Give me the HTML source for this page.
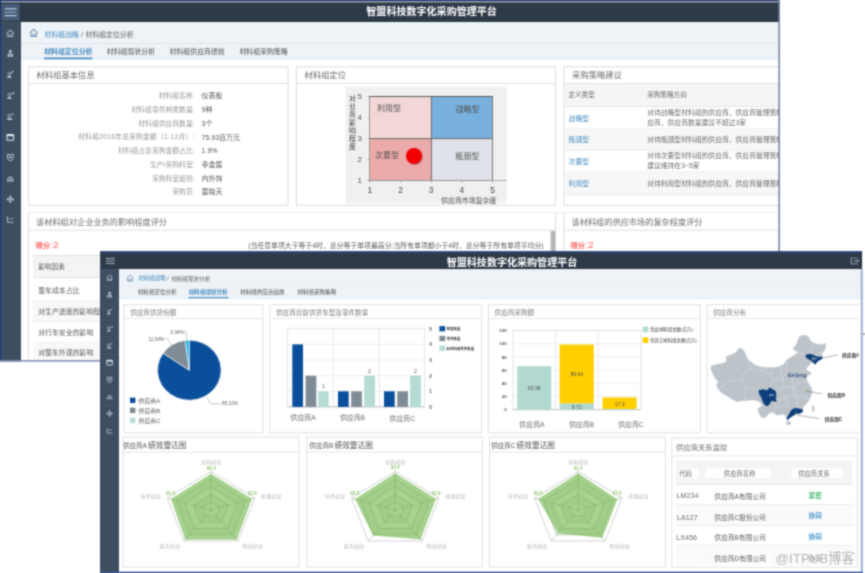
<!DOCTYPE html>
<html lang="zh-CN"><head><meta charset="utf-8"><title>智盟科技数字化采购管理平台</title>
<style>
html,body{margin:0;padding:0;background:#fff}
body{width:865px;height:573px;overflow:hidden;position:relative;font-family:"Liberation Sans","Noto Sans CJK SC",sans-serif}
#r{position:absolute;left:0;top:0;width:865px;height:573px;overflow:hidden;background:#fff;filter:url(#bl)}
.a{position:absolute}
.w{overflow:hidden}
.x{position:absolute;left:0;top:0;overflow:visible}
text{white-space:pre}
</style></head>
<body><svg width="0" height="0" style="position:absolute" aria-hidden="true"><filter id="bl" x="0" y="0" width="100%" height="100%" color-interpolation-filters="sRGB"><feConvolveMatrix order="5" kernelMatrix="0.0001 0.0020 0.0055 0.0020 0.0001 0.0020 0.0422 0.1171 0.0422 0.0020 0.0055 0.1171 0.3248 0.1171 0.0055 0.0020 0.0422 0.1171 0.0422 0.0020 0.0001 0.0020 0.0055 0.0020 0.0001" divisor="1.0004" edgeMode="duplicate" preserveAlpha="true"/></filter></svg><div id="r">
<div class="a w" id="w1" style="left:-12px;top:-12px;width:792px;height:373.7px;background:#fff">
<div class="a" style="left:12px;top:12px;width:865px;height:573px">
<svg class="x" width="1" height="1"><rect x="-12" y="-12" width="792" height="34.4" fill="#2e3a47"/></svg>
<svg class="x" width="1" height="1"><rect x="-12" y="-12" width="792" height="13" fill="#203a74"/></svg>
<svg class="x" width="1" height="1"><rect x="1" y="1" width="778" height="1.5" fill="#a0a2ae"/></svg>
<svg class="x" width="1" height="1"><rect x="-12" y="21.5" width="33" height="340" fill="#3e4e61"/></svg>
<svg class="a" style="left:0px;top:0px;" width="30" height="30" viewBox="0 0 30 30"><rect x="1.3" y="3.8" width="18.4" height="16.8" fill="#475c74"/><rect x="4.8" y="8.2" width="11.7" height="1.2" fill="#b4d2ea"/><rect x="4.8" y="11.6" width="11.7" height="1.2" fill="#93abc2"/><rect x="4.8" y="15" width="11.7" height="1.2" fill="#b4d2ea"/></svg>
<svg class="a" style="left:6.1px;top:28.9px;" width="8.6" height="8.6" viewBox="0 0 12 12"><path d="M1 6.2 L6 1.6 L11 6.2" fill="none" stroke="#acbbcc" stroke-width="1.5"/><path d="M2.6 6 V10.6 H9.4 V6" fill="none" stroke="#acbbcc" stroke-width="1.5"/><rect x="5" y="7.4" width="2" height="2.2" fill="#acbbcc"/></svg>
<svg class="a" style="left:6.1px;top:49.4px;" width="8.6" height="8.6" viewBox="0 0 12 12"><circle cx="6" cy="3.4" r="2.2" fill="#acbbcc"/><path d="M2.2 11 V8 Q2.2 5.8 6 5.8 Q9.8 5.8 9.8 8 V11 Z" fill="#acbbcc"/><rect x="5.4" y="7.6" width="1.2" height="3.4" fill="#3f5063"/></svg>
<svg class="a" style="left:6.1px;top:70.4px;" width="8.6" height="8.6" viewBox="0 0 12 12"><circle cx="4.6" cy="5.4" r="2" fill="none" stroke="#acbbcc" stroke-width="1.3"/><path d="M1.4 11 Q1.6 8 4.6 8 Q7.6 8 8 11 Z" fill="#acbbcc"/><path d="M7 4.2 L11 1.2" stroke="#acbbcc" stroke-width="1.4"/></svg>
<svg class="a" style="left:6.1px;top:91.4px;" width="8.6" height="8.6" viewBox="0 0 12 12"><circle cx="4.6" cy="5.2" r="1.9" fill="none" stroke="#acbbcc" stroke-width="1.3"/><path d="M1.4 11 Q1.6 8 4.6 8 Q7.6 8 8 11 Z" fill="#acbbcc"/><path d="M7.4 3.6 h3.2 v-2.2" fill="none" stroke="#acbbcc" stroke-width="1.4"/></svg>
<svg class="a" style="left:6.1px;top:111.9px;" width="8.6" height="8.6" viewBox="0 0 12 12"><circle cx="4.4" cy="5.2" r="1.9" fill="none" stroke="#acbbcc" stroke-width="1.3"/><path d="M1.2 11 Q1.4 8 4.6 8 Q8.8 8 9.4 11 Z" fill="#acbbcc"/><path d="M7.6 2 l3 2.4 M10.6 2 l-3 2.4" stroke="#acbbcc" stroke-width="1.2"/></svg>
<svg class="a" style="left:6.1px;top:132.9px;" width="8.6" height="8.6" viewBox="0 0 12 12"><rect x="1.4" y="2" width="9.2" height="8.2" rx="0.8" fill="none" stroke="#dde6ee" stroke-width="1.5"/><rect x="1.4" y="2" width="9.2" height="2.4" fill="#dde6ee"/></svg>
<svg class="a" style="left:6.1px;top:152.9px;" width="8.6" height="8.6" viewBox="0 0 12 12"><path d="M2 2 H10 V6.4 Q10 9.6 6 11 Q2 9.6 2 6.4 Z" fill="none" stroke="#acbbcc" stroke-width="1.4"/><rect x="4.4" y="4.2" width="3.2" height="3" fill="#acbbcc"/></svg>
<svg class="a" style="left:6.1px;top:173.9px;" width="8.6" height="8.6" viewBox="0 0 12 12"><path d="M1.4 9.6 H10.6 M2.6 9.4 V7 Q2.6 4.2 6 4.2 Q9.4 4.2 9.4 7 V9.4" fill="none" stroke="#acbbcc" stroke-width="1.4"/><rect x="4.8" y="6.2" width="2.4" height="2" fill="#acbbcc"/></svg>
<svg class="a" style="left:6.1px;top:194.9px;" width="8.6" height="8.6" viewBox="0 0 12 12"><path d="M6 0.8 L8.4 3.4 H3.6 Z M6 11.2 L8.4 8.6 H3.6 Z M0.8 6 L3.4 3.6 V8.4 Z M11.2 6 L8.6 3.6 V8.4 Z" fill="#dde6ee"/><rect x="4.6" y="4.6" width="2.8" height="2.8" fill="#dde6ee"/></svg>
<svg class="a" style="left:6.1px;top:214.9px;" width="8.6" height="8.6" viewBox="0 0 12 12"><path d="M2 1.6 V10.2 H10.6" fill="none" stroke="#acbbcc" stroke-width="1.4"/><path d="M4 6.4 L6 4.4 L7.6 6.4 L10 3.6" fill="none" stroke="#acbbcc" stroke-width="1.2"/></svg>
<svg class="x" width="1" height="1"><rect x="1" y="43.2" width="20" height="0.6" fill="#46566a"/></svg>
<svg class="x" width="1" height="1"><rect x="1" y="63.7" width="20" height="0.6" fill="#46566a"/></svg>
<svg class="x" width="1" height="1"><rect x="1" y="84.7" width="20" height="0.6" fill="#46566a"/></svg>
<svg class="x" width="1" height="1"><rect x="1" y="105.7" width="20" height="0.6" fill="#46566a"/></svg>
<svg class="x" width="1" height="1"><rect x="1" y="126.2" width="20" height="0.6" fill="#46566a"/></svg>
<svg class="x" width="1" height="1"><rect x="1" y="147.2" width="20" height="0.6" fill="#46566a"/></svg>
<svg class="x" width="1" height="1"><rect x="1" y="167.2" width="20" height="0.6" fill="#46566a"/></svg>
<svg class="x" width="1" height="1"><rect x="1" y="188.2" width="20" height="0.6" fill="#46566a"/></svg>
<svg class="x" width="1" height="1"><rect x="1" y="209.2" width="20" height="0.6" fill="#46566a"/></svg>
<svg class="x" width="1" height="1"><text x="431.6" y="15" font-size="10.05" fill="#fff" text-anchor="middle" font-weight="bold">智盟科技数字化采购管理平台</text></svg>
<svg class="x" width="1" height="1"><rect x="21" y="22" width="758" height="21.5" fill="#eef3f8"/></svg>
<svg class="x" width="1" height="1"><rect x="21" y="43.2" width="758" height="0.8" fill="#d9e0e8"/></svg>
<svg class="x" width="1" height="1"><rect x="21" y="44" width="758" height="15" fill="#eff3f8"/></svg>
<svg class="x" width="1" height="1"><rect x="21" y="58.6" width="758" height="0.8" fill="#d3e0ee"/></svg>
<svg class="a" style="left:29.05px;top:28.45px;" width="9.5" height="9.5" viewBox="0 0 12 12"><path d="M1 6.4 L6 1.4 L11 6.4" fill="none" stroke="#6f8fb0" stroke-width="1.3"/><path d="M2.6 6 V10.6 H9.4 V6" fill="none" stroke="#6f8fb0" stroke-width="1.3"/><path d="M4.8 10.4 V7.6 H7.2 V10.4" fill="none" stroke="#6f8fb0" stroke-width="1"/></svg>
<svg class="x" width="1" height="1"><text x="44.6" y="37" font-size="6.85" fill="#498ec2">材料组战略</text></svg>
<svg class="x" width="1" height="1"><text x="81" y="37" font-size="6.85" fill="#5e5e5e">/</text></svg>
<svg class="x" width="1" height="1"><text x="85.6" y="37" font-size="6.85" fill="#5e5e5e">材料组定位分析</text></svg>
<svg class="x" width="1" height="1"><text x="44.2" y="54" font-size="6.9" fill="#498ec2" font-weight="bold">材料组定位分析</text></svg>
<svg class="x" width="1" height="1"><text x="106.8" y="54" font-size="6.9" fill="#505050">材料组现状分析</text></svg>
<svg class="x" width="1" height="1"><text x="169.6" y="54" font-size="6.9" fill="#505050">材料组供应商绩效</text></svg>
<svg class="x" width="1" height="1"><text x="239.4" y="54" font-size="6.9" fill="#505050">材料组采购策略</text></svg>
<svg class="x" width="1" height="1"><rect x="44" y="57.6" width="48.4" height="1.6" fill="#3a86c0"/></svg>
<svg class="x" width="1" height="1"><rect x="28.5" y="66.8" width="259.6" height="138.5" fill="#fff" stroke="#dcdcdc" stroke-width="1"/><rect x="28" y="83" width="260.6" height="1" fill="#e0e0e0"/></svg><svg class="x" width="1" height="1"><text x="36.6" y="78" font-size="8.3" fill="#6d6d6d">材料组基本信息</text></svg>
<svg class="x" width="1" height="1"><rect x="296.5" y="66.8" width="259" height="138.5" fill="#fff" stroke="#dcdcdc" stroke-width="1"/><rect x="296" y="83" width="260" height="1" fill="#e0e0e0"/></svg><svg class="x" width="1" height="1"><text x="304.6" y="78" font-size="8.3" fill="#6d6d6d">材料组定位</text></svg>
<svg class="x" width="1" height="1"><rect x="564" y="66.8" width="229" height="138.5" fill="#fff" stroke="#dcdcdc" stroke-width="1"/><rect x="563.5" y="83" width="230" height="1" fill="#e0e0e0"/></svg><svg class="x" width="1" height="1"><text x="572.1" y="78" font-size="8.3" fill="#6d6d6d">采购策略建议</text></svg>
<svg class="x" width="1" height="1"><text x="194.6" y="98" font-size="6.8" fill="#9a9a9a" text-anchor="end">材料组名称:</text></svg>
<svg class="x" width="1" height="1"><text x="201.6" y="98" font-size="7" fill="#565656">仪表板</text></svg>
<svg class="x" width="1" height="1"><text x="194.6" y="112" font-size="6.8" fill="#9a9a9a" text-anchor="end">材料组零件种类数量:</text></svg>
<svg class="x" width="1" height="1"><text x="201.6" y="112" font-size="7" fill="#565656">9种</text></svg>
<svg class="x" width="1" height="1"><text x="194.6" y="126" font-size="6.8" fill="#9a9a9a" text-anchor="end">材料组供应商数量:</text></svg>
<svg class="x" width="1" height="1"><text x="201.6" y="126" font-size="7" fill="#565656">3个</text></svg>
<svg class="x" width="1" height="1"><text x="194.6" y="139" font-size="6.8" fill="#9a9a9a" text-anchor="end" style="letter-spacing:0.2px">材料组2018年总采购金额（1-12月）:</text></svg>
<svg class="x" width="1" height="1"><text x="201.6" y="140" font-size="7" fill="#565656">75.93百万元</text></svg>
<svg class="x" width="1" height="1"><text x="194.6" y="153" font-size="6.8" fill="#9a9a9a" text-anchor="end">材料组占总采购金额占比:</text></svg>
<svg class="x" width="1" height="1"><text x="201.6" y="153" font-size="7" fill="#565656">1.9%</text></svg>
<svg class="x" width="1" height="1"><text x="194.6" y="167" font-size="6.8" fill="#9a9a9a" text-anchor="end">生产/采购科室:</text></svg>
<svg class="x" width="1" height="1"><text x="201.6" y="167" font-size="7" fill="#565656">非金属</text></svg>
<svg class="x" width="1" height="1"><text x="194.6" y="181" font-size="6.8" fill="#9a9a9a" text-anchor="end">采购科室组别:</text></svg>
<svg class="x" width="1" height="1"><text x="201.6" y="181" font-size="7" fill="#565656">内外饰</text></svg>
<svg class="x" width="1" height="1"><text x="194.6" y="194" font-size="6.8" fill="#9a9a9a" text-anchor="end">采购员:</text></svg>
<svg class="x" width="1" height="1"><text x="201.6" y="194" font-size="7" fill="#565656">童晓天</text></svg>
<svg class="x" width="1" height="1"><rect x="345.6" y="86.8" width="161" height="116.4" fill="#f0f0f0"/></svg>
<svg class="x" width="1" height="1"><rect x="369.8" y="96.8" width="61.6" height="41.8" fill="#f3d7d7"/></svg>
<svg class="x" width="1" height="1"><rect x="431.4" y="96.8" width="61.2" height="41.8" fill="#78b1de"/></svg>
<svg class="x" width="1" height="1"><rect x="369.8" y="138.6" width="61.6" height="42" fill="#ecabab"/></svg>
<svg class="x" width="1" height="1"><rect x="431.4" y="138.6" width="61.2" height="42" fill="#dfe2e9"/></svg>
<div class="a" style="left:369.3px;top:96.3px;width:123.8px;height:84.8px;border:1px solid #777;border-top-color:#555;border-left-color:#999;box-sizing:border-box"></div>
<svg class="x" width="1" height="1"><rect x="367.8" y="180.2" width="138.6" height="0.8" fill="#999"/></svg>
<svg class="x" width="1" height="1"><rect x="369.8" y="138.1" width="122.8" height="1" fill="#666"/></svg>
<svg class="x" width="1" height="1"><rect x="430.9" y="96.8" width="1" height="83.8" fill="#666"/></svg>
<svg class="x" width="1" height="1"><rect x="367.8" y="180.2" width="2" height="0.8" fill="#999"/></svg>
<svg class="x" width="1" height="1"><rect x="369.4" y="180.6" width="0.8" height="2" fill="#999"/></svg>
<svg class="x" width="1" height="1"><text x="359.8" y="183" font-size="8" fill="#565656" text-anchor="middle">1</text></svg>
<svg class="x" width="1" height="1"><text x="369.8" y="193" font-size="8.4" fill="#484848" text-anchor="middle">1</text></svg>
<svg class="x" width="1" height="1"><rect x="367.8" y="159.25" width="2" height="0.8" fill="#999"/></svg>
<svg class="x" width="1" height="1"><rect x="400.1" y="180.6" width="0.8" height="2" fill="#999"/></svg>
<svg class="x" width="1" height="1"><text x="359.8" y="162" font-size="8" fill="#565656" text-anchor="middle">2</text></svg>
<svg class="x" width="1" height="1"><text x="400.5" y="193" font-size="8.4" fill="#484848" text-anchor="middle">2</text></svg>
<svg class="x" width="1" height="1"><rect x="367.8" y="138.3" width="2" height="0.8" fill="#999"/></svg>
<svg class="x" width="1" height="1"><rect x="430.8" y="180.6" width="0.8" height="2" fill="#999"/></svg>
<svg class="x" width="1" height="1"><text x="359.8" y="141" font-size="8" fill="#565656" text-anchor="middle">3</text></svg>
<svg class="x" width="1" height="1"><text x="431.2" y="193" font-size="8.4" fill="#484848" text-anchor="middle">3</text></svg>
<svg class="x" width="1" height="1"><rect x="367.8" y="117.35" width="2" height="0.8" fill="#999"/></svg>
<svg class="x" width="1" height="1"><rect x="461.5" y="180.6" width="0.8" height="2" fill="#999"/></svg>
<svg class="x" width="1" height="1"><text x="359.8" y="120" font-size="8" fill="#565656" text-anchor="middle">4</text></svg>
<svg class="x" width="1" height="1"><text x="461.9" y="193" font-size="8.4" fill="#484848" text-anchor="middle">4</text></svg>
<svg class="x" width="1" height="1"><rect x="367.8" y="96.4" width="2" height="0.8" fill="#999"/></svg>
<svg class="x" width="1" height="1"><rect x="492.2" y="180.6" width="0.8" height="2" fill="#999"/></svg>
<svg class="x" width="1" height="1"><text x="359.8" y="99" font-size="8" fill="#565656" text-anchor="middle">5</text></svg>
<svg class="x" width="1" height="1"><text x="492.6" y="193" font-size="8.4" fill="#484848" text-anchor="middle">5</text></svg>
<svg class="x" width="1" height="1"><text x="352.4" y="101" font-size="6.9" fill="#414141" text-anchor="middle">对</text></svg>
<svg class="x" width="1" height="1"><text x="352.4" y="109" font-size="6.9" fill="#414141" text-anchor="middle">业</text></svg>
<svg class="x" width="1" height="1"><text x="352.4" y="117" font-size="6.9" fill="#414141" text-anchor="middle">务</text></svg>
<svg class="x" width="1" height="1"><text x="352.4" y="125" font-size="6.9" fill="#414141" text-anchor="middle">影</text></svg>
<svg class="x" width="1" height="1"><text x="352.4" y="133" font-size="6.9" fill="#414141" text-anchor="middle">响</text></svg>
<svg class="x" width="1" height="1"><text x="352.4" y="141" font-size="6.9" fill="#414141" text-anchor="middle">程</text></svg>
<svg class="x" width="1" height="1"><text x="352.4" y="149" font-size="6.9" fill="#414141" text-anchor="middle">度</text></svg>
<svg class="x" width="1" height="1"><text x="468.8" y="203" font-size="6.95" fill="#505050" text-anchor="middle">供应商市场复杂度</text></svg>
<svg class="x" width="1" height="1"><text x="377" y="111" font-size="8" fill="#505050">利用型</text></svg>
<svg class="x" width="1" height="1"><text x="455.4" y="112" font-size="8" fill="#505050">战略型</text></svg>
<svg class="x" width="1" height="1"><text x="375" y="158" font-size="8" fill="#505050">次要型</text></svg>
<svg class="x" width="1" height="1"><text x="455.2" y="159" font-size="8" fill="#505050">瓶颈型</text></svg>
<div class="a" style="left:406px;top:147.8px;width:16px;height:16px;background:#f40000;border-radius:50%;box-shadow:0.6px 0.8px 1.2px rgba(120,60,60,.6)"></div>
<svg class="x" width="1" height="1"><rect x="564.5" y="84" width="216" height="22.5" fill="#f5f5f5"/></svg>
<svg class="x" width="1" height="1"><rect x="564.5" y="106.2" width="216" height="0.8" fill="#e0e0e0"/></svg>
<svg class="x" width="1" height="1"><text x="568.4" y="97" font-size="6.6" fill="#6d6d6d">定义类型</text></svg>
<svg class="x" width="1" height="1"><text x="647.2" y="97" font-size="6.6" fill="#6d6d6d">采购策略方向</text></svg>
<svg class="x" width="1" height="1"><rect x="564.5" y="128.4" width="216" height="0.8" fill="#e6e6e6"/></svg>
<svg class="x" width="1" height="1"><text x="568.6" y="121" font-size="6.9" fill="#498ec2">战略型</text></svg>
<svg class="x" width="1" height="1"><text x="647.2" y="115" font-size="6.8" fill="#6d6d6d">对待战略型材料组的供应商，供应商管理策略建议采用战略合作</text></svg>
<svg class="x" width="1" height="1"><text x="647.2" y="125" font-size="6.8" fill="#6d6d6d">应商，供应商数量建议不超过3家</text></svg>
<svg class="x" width="1" height="1"><rect x="564.5" y="128.8" width="216" height="21.4" fill="#f7f7f7"/></svg>
<svg class="x" width="1" height="1"><rect x="564.5" y="149.8" width="216" height="0.8" fill="#e6e6e6"/></svg>
<svg class="x" width="1" height="1"><text x="568.6" y="142" font-size="6.9" fill="#498ec2">瓶颈型</text></svg>
<svg class="x" width="1" height="1"><text x="647.2" y="142" font-size="6.8" fill="#6d6d6d">对待瓶颈型材料组的供应商，供应商管理策略建议保障供应</text></svg>
<svg class="x" width="1" height="1"><rect x="564.5" y="171.4" width="216" height="0.8" fill="#e6e6e6"/></svg>
<svg class="x" width="1" height="1"><text x="568.6" y="164" font-size="6.9" fill="#498ec2">次要型</text></svg>
<svg class="x" width="1" height="1"><text x="647.2" y="158" font-size="6.8" fill="#6d6d6d">对待次要型材料组的供应商，供应商管理策略建议简化流程</text></svg>
<svg class="x" width="1" height="1"><text x="647.2" y="168" font-size="6.8" fill="#6d6d6d">建议维持在3~5家</text></svg>
<svg class="x" width="1" height="1"><rect x="564.5" y="171.8" width="216" height="23" fill="#f7f7f7"/></svg>
<svg class="x" width="1" height="1"><rect x="564.5" y="194.4" width="216" height="0.8" fill="#e6e6e6"/></svg>
<svg class="x" width="1" height="1"><text x="568.6" y="186" font-size="6.9" fill="#498ec2">利用型</text></svg>
<svg class="x" width="1" height="1"><text x="647.2" y="186" font-size="6.8" fill="#6d6d6d">对待利用型材料组的供应商，供应商管理策略建议充分竞争</text></svg>
<svg class="x" width="1" height="1"><rect x="28.5" y="212.5" width="527" height="159" fill="#fff" stroke="#dcdcdc" stroke-width="1"/><rect x="28" y="229.7" width="528" height="1" fill="#e0e0e0"/></svg><svg class="x" width="1" height="1"><text x="36" y="225" font-size="8.2" fill="#6d6d6d">该材料组对企业业务的影响程度评分</text></svg>
<svg class="x" width="1" height="1"><rect x="564" y="212.5" width="229" height="159" fill="#fff" stroke="#dcdcdc" stroke-width="1"/><rect x="563.5" y="229.7" width="230" height="1" fill="#e0e0e0"/></svg><svg class="x" width="1" height="1"><text x="571.5" y="225" font-size="8.2" fill="#6d6d6d">该材料组的供应市场的复杂程度评分</text></svg>
<svg class="x" width="1" height="1"><rect x="28.5" y="212" width="764" height="1" fill="#ededed"/></svg>
<svg class="x" width="1" height="1"><rect x="550.6" y="231" width="4.8" height="140" fill="#b4b4b4"/></svg>
<svg class="x" width="1" height="1"><text x="35.4" y="248" font-size="7.3" fill="#ff6363" font-weight="bold">得分<tspan font-weight="normal" font-size="9.6" dx="0.6">:2</tspan></text></svg>
<svg class="x" width="1" height="1"><text x="570.4" y="248" font-size="7.3" fill="#ff6363" font-weight="bold">得分<tspan font-weight="normal" font-size="9.6" dx="0.6">:2</tspan></text></svg>
<svg class="x" width="1" height="1"><text x="543.6" y="248" font-size="6.86" fill="#5e5e5e" text-anchor="end">(当任意单项大于等于4时，总分等于单项最高分;当所有单项都小于4时，总分等于所有单项平均分)</text></svg>
<svg class="x" width="1" height="1"><rect x="33" y="255" width="517" height="22.6" fill="#f4f4f4"/></svg>
<svg class="x" width="1" height="1"><rect x="33" y="255" width="517" height="0.8" fill="#dedede"/></svg>
<svg class="x" width="1" height="1"><rect x="33" y="277.2" width="517" height="0.8" fill="#dedede"/></svg>
<svg class="x" width="1" height="1"><text x="38.2" y="269" font-size="6.7" fill="#5e5e5e">影响因素</text></svg>
<svg class="x" width="1" height="1"><rect x="33" y="300.1" width="517" height="0.7" fill="#e4e4e4"/></svg>
<svg class="x" width="1" height="1"><text x="38.2" y="293" font-size="6.9" fill="#5e5e5e">整车成本占比</text></svg>
<svg class="x" width="1" height="1"><rect x="33" y="300.55" width="517" height="20.9" fill="#f8f8f8"/></svg>
<svg class="x" width="1" height="1"><rect x="33" y="321.05" width="517" height="0.7" fill="#e4e4e4"/></svg>
<svg class="x" width="1" height="1"><text x="38.2" y="314" font-size="6.9" fill="#5e5e5e">对生产进度的影响程度</text></svg>
<svg class="x" width="1" height="1"><rect x="33" y="342" width="517" height="0.7" fill="#e4e4e4"/></svg>
<svg class="x" width="1" height="1"><text x="38.2" y="335" font-size="6.9" fill="#5e5e5e">对行车安全的影响</text></svg>
<svg class="x" width="1" height="1"><rect x="33" y="342.45" width="517" height="20.9" fill="#f8f8f8"/></svg>
<svg class="x" width="1" height="1"><rect x="33" y="362.95" width="517" height="0.7" fill="#e4e4e4"/></svg>
<svg class="x" width="1" height="1"><text x="38.2" y="355" font-size="6.9" fill="#5e5e5e">对整车外观的影响</text></svg>
<svg class="x" width="1" height="1"><rect x="-12" y="-12" width="13.1" height="373" fill="#203a74"/></svg>
<svg class="x" width="1" height="1"><rect x="778.4" y="-12" width="1.6" height="373.7" fill="#7484a8"/></svg>
<svg class="x" width="1" height="1"><rect x="-12" y="360.1" width="792" height="1.6" fill="#8391b4"/></svg>
</div></div>
<div class="a w" id="w2" style="left:100.3px;top:251.4px;width:762.6px;height:334.6px;background:transparent">
<div class="a" style="left:-100.3px;top:-251.4px;width:865px;height:573px">
<div class="a" style="left:100px;top:251px;width:763px;height:340px;background:#fff;width:762.1px"></div>
<svg class="x" width="1" height="1"><rect x="100" y="251" width="762.1" height="18.2" fill="#2e3a47"/></svg>
<svg class="x" width="1" height="1"><rect x="100" y="251.2" width="762.1" height="1.5" fill="#33508c"/></svg>
<svg class="x" width="1" height="1"><rect x="100" y="269" width="19" height="320" fill="#3e4e61"/></svg>
<svg class="a" style="left:100px;top:252px;" width="30" height="20" viewBox="0 0 30 20"><rect x="5.8" y="5.9" width="8.9" height="1" fill="#a4b4c4"/><rect x="5.8" y="8.4" width="8.9" height="1" fill="#a4b4c4"/><rect x="5.8" y="10.9" width="8.9" height="1" fill="#a4b4c4"/></svg>
<svg class="a" style="left:106.2px;top:274.4px;" width="7.2" height="7.2" viewBox="0 0 12 12"><path d="M1 6.2 L6 1.6 L11 6.2" fill="none" stroke="#b4c2d2" stroke-width="1.5"/><path d="M2.6 6 V10.6 H9.4 V6" fill="none" stroke="#b4c2d2" stroke-width="1.5"/><rect x="5" y="7.4" width="2" height="2.2" fill="#b4c2d2"/></svg>
<svg class="a" style="left:106.2px;top:291.4px;" width="7.2" height="7.2" viewBox="0 0 12 12"><circle cx="6" cy="3.4" r="2.2" fill="#b4c2d2"/><path d="M2.2 11 V8 Q2.2 5.8 6 5.8 Q9.8 5.8 9.8 8 V11 Z" fill="#b4c2d2"/><rect x="5.4" y="7.6" width="1.2" height="3.4" fill="#3f5063"/></svg>
<svg class="a" style="left:106.2px;top:308.4px;" width="7.2" height="7.2" viewBox="0 0 12 12"><circle cx="4.6" cy="5.4" r="2" fill="none" stroke="#b4c2d2" stroke-width="1.3"/><path d="M1.4 11 Q1.6 8 4.6 8 Q7.6 8 8 11 Z" fill="#b4c2d2"/><path d="M7 4.2 L11 1.2" stroke="#b4c2d2" stroke-width="1.4"/></svg>
<svg class="a" style="left:106.2px;top:325.4px;" width="7.2" height="7.2" viewBox="0 0 12 12"><circle cx="4.6" cy="5.2" r="1.9" fill="none" stroke="#b4c2d2" stroke-width="1.3"/><path d="M1.4 11 Q1.6 8 4.6 8 Q7.6 8 8 11 Z" fill="#b4c2d2"/><path d="M7.4 3.6 h3.2 v-2.2" fill="none" stroke="#b4c2d2" stroke-width="1.4"/></svg>
<svg class="a" style="left:106.2px;top:342.4px;" width="7.2" height="7.2" viewBox="0 0 12 12"><circle cx="4.4" cy="5.2" r="1.9" fill="none" stroke="#b4c2d2" stroke-width="1.3"/><path d="M1.2 11 Q1.4 8 4.6 8 Q8.8 8 9.4 11 Z" fill="#b4c2d2"/><path d="M7.6 2 l3 2.4 M10.6 2 l-3 2.4" stroke="#b4c2d2" stroke-width="1.2"/></svg>
<svg class="a" style="left:106.2px;top:359.4px;" width="7.2" height="7.2" viewBox="0 0 12 12"><rect x="1.4" y="2" width="9.2" height="8.2" rx="0.8" fill="none" stroke="#dde6ee" stroke-width="1.5"/><rect x="1.4" y="2" width="9.2" height="2.4" fill="#dde6ee"/></svg>
<svg class="a" style="left:106.2px;top:376.4px;" width="7.2" height="7.2" viewBox="0 0 12 12"><path d="M2 2 H10 V6.4 Q10 9.6 6 11 Q2 9.6 2 6.4 Z" fill="none" stroke="#b4c2d2" stroke-width="1.4"/><rect x="4.4" y="4.2" width="3.2" height="3" fill="#b4c2d2"/></svg>
<svg class="a" style="left:106.2px;top:393.4px;" width="7.2" height="7.2" viewBox="0 0 12 12"><path d="M1.4 9.6 H10.6 M2.6 9.4 V7 Q2.6 4.2 6 4.2 Q9.4 4.2 9.4 7 V9.4" fill="none" stroke="#b4c2d2" stroke-width="1.4"/><rect x="4.8" y="6.2" width="2.4" height="2" fill="#b4c2d2"/></svg>
<svg class="a" style="left:106.2px;top:410.4px;" width="7.2" height="7.2" viewBox="0 0 12 12"><path d="M6 0.8 L8.4 3.4 H3.6 Z M6 11.2 L8.4 8.6 H3.6 Z M0.8 6 L3.4 3.6 V8.4 Z M11.2 6 L8.6 3.6 V8.4 Z" fill="#dde6ee"/><rect x="4.6" y="4.6" width="2.8" height="2.8" fill="#dde6ee"/></svg>
<svg class="a" style="left:106.2px;top:427.4px;" width="7.2" height="7.2" viewBox="0 0 12 12"><path d="M2 1.6 V10.2 H10.6" fill="none" stroke="#b4c2d2" stroke-width="1.4"/><path d="M4 6.4 L6 4.4 L7.6 6.4 L10 3.6" fill="none" stroke="#b4c2d2" stroke-width="1.2"/></svg>
<svg class="x" width="1" height="1"><rect x="101" y="286.4" width="18" height="0.5" fill="#46566a"/></svg>
<svg class="x" width="1" height="1"><rect x="101" y="303.4" width="18" height="0.5" fill="#46566a"/></svg>
<svg class="x" width="1" height="1"><rect x="101" y="320.4" width="18" height="0.5" fill="#46566a"/></svg>
<svg class="x" width="1" height="1"><rect x="101" y="337.4" width="18" height="0.5" fill="#46566a"/></svg>
<svg class="x" width="1" height="1"><rect x="101" y="354.4" width="18" height="0.5" fill="#46566a"/></svg>
<svg class="x" width="1" height="1"><rect x="101" y="371.4" width="18" height="0.5" fill="#46566a"/></svg>
<svg class="x" width="1" height="1"><rect x="101" y="388.4" width="18" height="0.5" fill="#46566a"/></svg>
<svg class="x" width="1" height="1"><rect x="101" y="405.4" width="18" height="0.5" fill="#46566a"/></svg>
<svg class="x" width="1" height="1"><rect x="101" y="422.4" width="18" height="0.5" fill="#46566a"/></svg>
<svg class="x" width="1" height="1"><text x="512" y="266" font-size="10.05" fill="#fff" text-anchor="middle" font-weight="bold">智盟科技数字化采购管理平台</text></svg>
<svg class="a" style="left:849.6px;top:257px;" width="9.6" height="8" viewBox="0 0 9.6 8"><path d="M7.4 1 H1.2 V6.8 H7.4" fill="none" stroke="#7f8f9f" stroke-width="1.2"/><path d="M3.8 3.9 H8.8 M7.2 2.4 L8.9 3.9 L7.2 5.4" fill="none" stroke="#8797a8" stroke-width="1.1"/></svg>
<svg class="x" width="1" height="1"><rect x="119" y="269.2" width="743" height="17" fill="#eef3f8"/></svg>
<svg class="x" width="1" height="1"><rect x="119" y="286" width="743" height="0.7" fill="#e0e6ee"/></svg>
<svg class="x" width="1" height="1"><rect x="119" y="286.7" width="743" height="11.9" fill="#eff3f8"/></svg>
<svg class="x" width="1" height="1"><rect x="119" y="298.3" width="743" height="0.7" fill="#d6e2ee"/></svg>
<svg class="a" style="left:125.5px;top:273.6px;" width="8" height="8" viewBox="0 0 12 12"><path d="M1 6.4 L6 1.4 L11 6.4" fill="none" stroke="#6f8fb0" stroke-width="1.3"/><path d="M2.6 6 V10.6 H9.4 V6" fill="none" stroke="#6f8fb0" stroke-width="1.3"/><path d="M4.8 10.4 V7.6 H7.2 V10.4" fill="none" stroke="#6f8fb0" stroke-width="1"/></svg>
<svg class="x" width="1" height="1"><text x="138.4" y="280" font-size="5.5" fill="#498ec2">材料组战略</text></svg>
<svg class="x" width="1" height="1"><text x="167.2" y="280" font-size="5.5" fill="#5e5e5e">/</text></svg>
<svg class="x" width="1" height="1"><text x="171.4" y="281" font-size="5.55" fill="#5e5e5e">材料组现状分析</text></svg>
<svg class="x" width="1" height="1"><text x="137.8" y="294" font-size="5.55" fill="#505050">材料组定位分析</text></svg>
<svg class="x" width="1" height="1"><text x="188.8" y="294" font-size="5.55" fill="#498ec2" font-weight="bold">材料组现状分析</text></svg>
<svg class="x" width="1" height="1"><text x="240.2" y="294" font-size="5.55" fill="#505050">材料组供应商绩效</text></svg>
<svg class="x" width="1" height="1"><text x="297.4" y="294" font-size="5.55" fill="#505050">材料组采购策略</text></svg>
<svg class="x" width="1" height="1"><rect x="188.4" y="297" width="40" height="1.2" fill="#4a90c8"/></svg>
<svg class="x" width="1" height="1"><rect x="124.1" y="304.7" width="138.8" height="128" fill="#fff" stroke="#e2e2e2" stroke-width="1"/><rect x="123.6" y="318" width="139.8" height="1" fill="#e6e6e6"/></svg><svg class="x" width="1" height="1"><text x="130.2" y="315" font-size="6.6" fill="#7f7f7f">供应商供货份额</text></svg>
<svg class="x" width="1" height="1"><rect x="269.9" y="304.7" width="211.6" height="128" fill="#fff" stroke="#e2e2e2" stroke-width="1"/><rect x="269.4" y="318" width="212.6" height="1" fill="#e6e6e6"/></svg><svg class="x" width="1" height="1"><text x="276" y="315" font-size="6.6" fill="#7f7f7f">供应商目前供货车型及零件数量</text></svg>
<svg class="x" width="1" height="1"><rect x="488.5" y="304.7" width="211.8" height="128" fill="#fff" stroke="#e2e2e2" stroke-width="1"/><rect x="488" y="318" width="212.8" height="1" fill="#e6e6e6"/></svg><svg class="x" width="1" height="1"><text x="494.6" y="315" font-size="6.6" fill="#7f7f7f">供应商采购额</text></svg>
<svg class="x" width="1" height="1"><rect x="707.1" y="304.7" width="169" height="128" fill="#fff" stroke="#e2e2e2" stroke-width="1"/><rect x="706.6" y="318" width="170" height="1" fill="#e6e6e6"/></svg><svg class="x" width="1" height="1"><text x="713.2" y="315" font-size="6.6" fill="#7f7f7f">供应商分布</text></svg>
<svg class="a" style="left:0px;top:0px;" width="865" height="573" viewBox="0 0 865 573"><path d="M189.3 370.2 L189.3 340.2 A31.8 30 0 1 1 163.1 353.2 Z" fill="#0a4f9c" stroke="#e8eef4" stroke-width="0.7"/><path d="M189.3 370.2 L163.1 353.2 A31.8 30 0 0 1 185.2 340.4 Z" fill="#7f8c95" stroke="#e8eef4" stroke-width="0.7"/><path d="M189.3 370.2 L185.2 340.4 A31.8 30 0 0 1 189.3 340.2 Z" fill="#29b7ea" stroke="#e8eef4" stroke-width="0.7"/><path d="M186.8 340.4 L186 331.6 H183.4 M171 345 L167.4 338.4 H164.4 M206.6 397 L210.6 403.8 H220.6" fill="none" stroke="#999" stroke-width="0.5"/></svg>
<svg class="x" width="1" height="1"><text x="177" y="334" font-size="4.7" fill="#5e5e5e" text-anchor="middle">3.34%</text></svg>
<svg class="x" width="1" height="1"><text x="156.2" y="341" font-size="4.7" fill="#5e5e5e" text-anchor="middle">11.54%</text></svg>
<svg class="x" width="1" height="1"><text x="230" y="405" font-size="4.7" fill="#5e5e5e" text-anchor="middle">85.10%</text></svg>
<svg class="x" width="1" height="1"><rect x="130" y="397.6" width="5.4" height="5.4" fill="#0a4f9c"/></svg>
<svg class="x" width="1" height="1"><text x="138.6" y="403" font-size="5.9" fill="#5e5e5e">供应商A</text></svg>
<svg class="x" width="1" height="1"><rect x="130" y="407.65" width="5.4" height="5.4" fill="#7f8c95"/></svg>
<svg class="x" width="1" height="1"><text x="138.6" y="413" font-size="5.9" fill="#5e5e5e">供应商B</text></svg>
<svg class="x" width="1" height="1"><rect x="130" y="417.7" width="5.4" height="5.4" fill="#b4dcd4"/></svg>
<svg class="x" width="1" height="1"><text x="138.6" y="423" font-size="5.9" fill="#5e5e5e">供应商C</text></svg>
<svg class="a" style="left:0px;top:0px;" width="865" height="573" viewBox="0 0 865 573"><rect x="287.3" y="328.8" width="137.5" height="78.1" fill="#fff" stroke="#d8d8d8" stroke-width="0.7"/><path d="M287.3 391.3 H424.8" stroke="#e6e6e6" stroke-width="0.6"/><path d="M287.3 375.7 H424.8" stroke="#e6e6e6" stroke-width="0.6"/><path d="M287.3 360.0 H424.8" stroke="#e6e6e6" stroke-width="0.6"/><path d="M287.3 344.4 H424.8" stroke="#e6e6e6" stroke-width="0.6"/><path d="M333.2 328.8 V406.9" stroke="#dcdcdc" stroke-width="0.7"/><path d="M379.4 328.8 V406.9" stroke="#dcdcdc" stroke-width="0.7"/><path d="M287.3 406.9 H424.8" stroke="#bbb" stroke-width="0.8"/><rect x="292.3" y="344.4" width="10.7" height="62.5" fill="#0a4f9c"/><rect x="305.6" y="375.7" width="10.7" height="31.2" fill="#7f8c95"/><rect x="318.3" y="391.3" width="10.3" height="15.6" fill="#b4dcd4"/><rect x="338.0" y="391.3" width="10.7" height="15.6" fill="#0a4f9c"/><rect x="351.2" y="391.3" width="10.7" height="15.6" fill="#7f8c95"/><rect x="364.2" y="375.7" width="10.8" height="31.2" fill="#b4dcd4"/><rect x="384.0" y="391.3" width="10.7" height="15.6" fill="#0a4f9c"/><rect x="397.3" y="391.3" width="10.7" height="15.6" fill="#7f8c95"/><rect x="410.1" y="375.7" width="10.8" height="31.2" fill="#b4dcd4"/></svg>
<svg class="x" width="1" height="1"><text x="430.6" y="409" font-size="4.6" fill="#505050" text-anchor="middle" font-weight="bold">0</text></svg>
<svg class="x" width="1" height="1"><text x="430.6" y="393" font-size="4.6" fill="#505050" text-anchor="middle" font-weight="bold">1</text></svg>
<svg class="x" width="1" height="1"><text x="430.6" y="378" font-size="4.6" fill="#505050" text-anchor="middle" font-weight="bold">2</text></svg>
<svg class="x" width="1" height="1"><text x="430.6" y="362" font-size="4.6" fill="#505050" text-anchor="middle" font-weight="bold">3</text></svg>
<svg class="x" width="1" height="1"><text x="430.6" y="346" font-size="4.6" fill="#505050" text-anchor="middle" font-weight="bold">4</text></svg>
<svg class="x" width="1" height="1"><text x="430.6" y="331" font-size="4.6" fill="#505050" text-anchor="middle" font-weight="bold">5</text></svg>
<svg class="x" width="1" height="1"><text x="323.4" y="388" font-size="5.2" fill="#5e5e5e" text-anchor="middle">1</text></svg>
<svg class="x" width="1" height="1"><text x="369.4" y="373" font-size="5.2" fill="#5e5e5e" text-anchor="middle">2</text></svg>
<svg class="x" width="1" height="1"><text x="415.4" y="373" font-size="5.2" fill="#5e5e5e" text-anchor="middle">2</text></svg>
<svg class="x" width="1" height="1"><text x="303.2" y="420" font-size="6.9" fill="#6d6d6d" text-anchor="middle">供应商A</text></svg>
<svg class="x" width="1" height="1"><text x="352.6" y="420" font-size="6.9" fill="#6d6d6d" text-anchor="middle">供应商B</text></svg>
<svg class="x" width="1" height="1"><text x="402.4" y="421" font-size="6.9" fill="#6d6d6d" text-anchor="middle">供应商C</text></svg>
<svg class="x" width="1" height="1"><rect x="439.4" y="326.1" width="5.8" height="5.2" fill="#0a4f9c"/></svg>
<svg class="x" width="1" height="1"><text x="446.6" y="330" font-size="3.45" fill="#323232" font-weight="bold">车型数量</text></svg>
<svg class="x" width="1" height="1"><rect x="439.4" y="335.9" width="5.8" height="5.2" fill="#7f8c95"/></svg>
<svg class="x" width="1" height="1"><text x="446.6" y="340" font-size="3.45" fill="#323232" font-weight="bold">零件数量</text></svg>
<svg class="x" width="1" height="1"><rect x="439.4" y="345.7" width="5.8" height="5.2" fill="#b4dcd4"/></svg>
<svg class="x" width="1" height="1"><text x="446.6" y="350" font-size="3.45" fill="#323232" font-weight="bold">此材料组零件数量</text></svg>
<svg class="a" style="left:0px;top:0px;" width="865" height="573" viewBox="0 0 865 573"><rect x="513" y="330.6" width="128" height="79.1" fill="#fff" stroke="#d8d8d8" stroke-width="0.7"/><path d="M513 396.5 H641" stroke="#e6e6e6" stroke-width="0.6"/><path d="M513 383.3 H641" stroke="#e6e6e6" stroke-width="0.6"/><path d="M513 370.1 H641" stroke="#e6e6e6" stroke-width="0.6"/><path d="M513 357.0 H641" stroke="#e6e6e6" stroke-width="0.6"/><path d="M513 343.8 H641" stroke="#e6e6e6" stroke-width="0.6"/><path d="M555.6 330.6 V409.7" stroke="#dcdcdc" stroke-width="0.7"/><path d="M598.2 330.6 V409.7" stroke="#dcdcdc" stroke-width="0.7"/><path d="M513 409.7 H641" stroke="#bbb" stroke-width="0.8"/><rect x="517.2" y="366.2" width="34" height="43.5" fill="#b1d9d1"/><rect x="559.6" y="403.3" width="34.2" height="6.4" fill="#b1d9d1"/><rect x="559.6" y="344.6" width="34.2" height="58.7" fill="#ffcf00"/><rect x="602.6" y="408.9" width="34" height="0.8" fill="#b1d9d1"/><rect x="602.6" y="397.5" width="34" height="11.4" fill="#ffcf00"/></svg>
<svg class="x" width="1" height="1"><text x="506.6" y="411" font-size="4.4" fill="#505050" text-anchor="end" font-weight="bold">0</text></svg>
<svg class="x" width="1" height="1"><text x="506.6" y="398" font-size="4.4" fill="#505050" text-anchor="end" font-weight="bold">20</text></svg>
<svg class="x" width="1" height="1"><text x="506.6" y="385" font-size="4.4" fill="#505050" text-anchor="end" font-weight="bold">40</text></svg>
<svg class="x" width="1" height="1"><text x="506.6" y="372" font-size="4.4" fill="#505050" text-anchor="end" font-weight="bold">60</text></svg>
<svg class="x" width="1" height="1"><text x="506.6" y="359" font-size="4.4" fill="#505050" text-anchor="end" font-weight="bold">80</text></svg>
<svg class="x" width="1" height="1"><text x="506.6" y="345" font-size="4.4" fill="#505050" text-anchor="end" font-weight="bold">100</text></svg>
<svg class="x" width="1" height="1"><text x="506.6" y="332" font-size="4.4" fill="#505050" text-anchor="end" font-weight="bold">120</text></svg>
<svg class="x" width="1" height="1"><text x="534.2" y="390" font-size="5.1" fill="#505050" text-anchor="middle">65.96</text></svg>
<svg class="x" width="1" height="1"><text x="576.8" y="376" font-size="5.1" fill="#505050" text-anchor="middle">89.04</text></svg>
<svg class="x" width="1" height="1"><text x="576.8" y="409" font-size="5.1" fill="#505050" text-anchor="middle">9.72</text></svg>
<svg class="x" width="1" height="1"><text x="619.6" y="406" font-size="5.1" fill="#505050" text-anchor="middle">17.3</text></svg>
<svg class="x" width="1" height="1"><text x="532" y="427" font-size="6.9" fill="#6d6d6d" text-anchor="middle">供应商A</text></svg>
<svg class="x" width="1" height="1"><text x="581.6" y="427" font-size="6.9" fill="#6d6d6d" text-anchor="middle">供应商B</text></svg>
<svg class="x" width="1" height="1"><text x="631" y="427" font-size="6.9" fill="#6d6d6d" text-anchor="middle">供应商C</text></svg>
<svg class="x" width="1" height="1"><rect x="642.8" y="326.6" width="5.6" height="5.6" fill="#b1d9d1"/></svg>
<svg class="x" width="1" height="1"><text x="650.2" y="331" font-size="4.4" fill="#414141">供此材料组金额(百万)</text></svg>
<svg class="x" width="1" height="1"><rect x="642.8" y="337.4" width="5.6" height="5.6" fill="#ffcf00"/></svg>
<svg class="x" width="1" height="1"><text x="650.2" y="342" font-size="4.4" fill="#414141">供其它材料组金额(百万)</text></svg>
<svg class="a" style="left:0px;top:0px;" width="865" height="573" viewBox="0 0 865 573"><path d="M799.8 336.1 L804.6 335.0 L808.4 336.5 L810.3 340.4 L813.2 342.7 L817.0 344.2 L821.8 344.6 L825.7 343.2 L825.7 347.1 L824.3 350.9 L821.8 353.8 L822.8 356.7 L819.9 359.6 L817.0 361.5 L815.1 364.4 L813.2 362.4 L810.3 363.4 L808.4 366.3 L806.5 368.2 L807.4 371.1 L810.3 372.0 L811.3 374.0 L808.4 375.3 L806.5 377.8 L807.4 381.6 L809.4 384.5 L811.3 387.4 L812.2 391.2 L811.3 395.1 L809.7 398.9 L807.4 402.8 L804.6 405.6 L802.6 408.5 L799.8 410.4 L795.9 413.3 L792.1 415.2 L789.2 417.1 L787.3 420.0 L786.3 418.1 L785.4 415.2 L782.5 414.3 L779.6 414.8 L776.7 415.2 L773.9 413.3 L771.0 412.3 L768.1 414.3 L766.2 417.1 L763.3 418.1 L760.4 416.2 L758.5 412.3 L757.6 409.5 L759.5 407.5 L762.4 405.6 L760.4 402.8 L757.6 400.8 L751.8 399.9 L746.0 400.8 L741.3 400.8 L736.5 401.8 L731.7 398.9 L726.9 396.0 L722.1 393.2 L718.2 389.3 L716.3 385.5 L718.2 381.6 L715.3 378.8 L712.5 373.0 L710.6 368.2 L711.5 365.7 L716.3 364.4 L722.1 363.4 L726.9 361.5 L725.9 356.7 L730.7 354.8 L735.5 352.8 L738.4 349.0 L741.3 348.0 L744.1 350.9 L746.0 355.7 L748.0 359.6 L751.8 362.4 L755.6 365.3 L761.4 366.9 L767.2 367.6 L773.9 367.6 L779.6 366.3 L783.5 364.4 L786.3 360.5 L790.2 357.6 L795.0 354.8 L797.9 351.9 L794.0 350.0 L793.1 347.7 L795.9 345.2 L797.9 340.4 Z" fill="#bcc3c9" stroke="#c8ced3" stroke-width="0.4" stroke-linejoin="round"/><path d="M748.0 359.6 L750.8 368.2 L743.2 374.0 L741.3 380.7 L747.0 388.4 L758.5 390.3" fill="none" stroke="#dfe3e7" stroke-width="0.5"/><path d="M750.8 368.2 L761.4 371.1 L770.0 374.0 L773.9 367.6" fill="none" stroke="#dfe3e7" stroke-width="0.5"/><path d="M770.0 374.0 L773.9 380.7 L769.5 387.4" fill="none" stroke="#dfe3e7" stroke-width="0.5"/><path d="M773.9 380.7 L782.5 378.8 L786.3 373.0 L786.3 360.5" fill="none" stroke="#dfe3e7" stroke-width="0.5"/><path d="M782.5 378.8 L784.4 386.4 L775.8 391.2" fill="none" stroke="#dfe3e7" stroke-width="0.5"/><path d="M786.3 373.0 L795.9 375.3 L806.5 368.2" fill="none" stroke="#dfe3e7" stroke-width="0.5"/><path d="M795.9 375.3 L797.9 382.6 L807.4 381.6" fill="none" stroke="#dfe3e7" stroke-width="0.5"/><path d="M784.4 386.4 L794.0 388.4 L797.9 382.6" fill="none" stroke="#dfe3e7" stroke-width="0.5"/><path d="M794.0 388.4 L795.9 396.0 L809.7 398.9" fill="none" stroke="#dfe3e7" stroke-width="0.5"/><path d="M776.7 401.8 L785.4 396.0 L795.9 396.0" fill="none" stroke="#dfe3e7" stroke-width="0.5"/><path d="M785.4 396.0 L787.3 405.6 L791.7 409.5" fill="none" stroke="#dfe3e7" stroke-width="0.5"/><path d="M773.9 401.4 L775.8 407.5 L773.9 413.3" fill="none" stroke="#dfe3e7" stroke-width="0.5"/><path d="M775.8 407.5 L787.3 405.6" fill="none" stroke="#dfe3e7" stroke-width="0.5"/><path d="M747.0 388.4 L744.1 396.0 L746.0 400.8" fill="none" stroke="#dfe3e7" stroke-width="0.5"/><path d="M795.9 396.0 L798.8 408.5" fill="none" stroke="#dfe3e7" stroke-width="0.5"/><path d="M797.9 351.9 L805.5 354.8" fill="none" stroke="#dfe3e7" stroke-width="0.5"/><path d="M810.3 353.8 L813.2 342.7" fill="none" stroke="#dfe3e7" stroke-width="0.5"/><path d="M718.2 389.3 L728.8 380.7 L741.3 380.7" fill="none" stroke="#dfe3e7" stroke-width="0.5"/><path d="M767.2 406.6 L762.4 405.6" fill="none" stroke="#dfe3e7" stroke-width="0.5"/><path d="M814.2 355.3 L824.3 350.9" fill="none" stroke="#dfe3e7" stroke-width="0.5"/><path d="M761.4 371.1 L767.2 367.6" fill="none" stroke="#dfe3e7" stroke-width="0.5"/><path d="M782.5 378.8 L779.6 366.3" fill="none" stroke="#dfe3e7" stroke-width="0.5"/><path d="M794.0 388.4 L792.1 380.7 L795.9 375.3" fill="none" stroke="#dfe3e7" stroke-width="0.5"/><path d="M805.5 354.8 L810.3 353.8 L814.2 355.3 L818.0 356.7 L822.8 356.7 L821.8 359.2 L819.0 360.5 L816.7 362.4 L815.1 364.7 L813.2 362.4 L810.9 360.5 L808.4 359.2 L805.9 357.6 Z" fill="#0d3f7c"/><path d="M758.5 390.3 L763.3 389.3 L767.2 390.3 L769.5 387.4 L772.9 389.3 L775.8 391.2 L776.4 395.1 L775.8 398.9 L776.7 401.8 L773.9 401.4 L771.4 400.8 L770.0 403.7 L767.2 406.6 L764.3 404.7 L762.4 400.8 L761.0 397.0 L759.1 394.1 Z" fill="#0d3f7c"/><path d="M791.7 409.5 L795.0 408.1 L798.8 408.5 L803.2 409.5 L802.6 412.3 L799.4 413.7 L795.9 414.3 L792.5 416.2 L789.8 418.1 L787.3 420.4 L786.7 418.1 L788.6 414.8 L790.2 411.8 Z" fill="#0d3f7c"/><ellipse cx="788.6" cy="422.9" rx="2.3" ry="2" fill="#bcc3c9"/><ellipse cx="813.2" cy="408.7" rx="1.3" ry="3.4" fill="#c6cdd3"/><path d="M822.8 358.0 L837.8 354.8" stroke="#666" stroke-width="0.5"/><path d="M807.1 391.4 L821.8 393.7" stroke="#666" stroke-width="0.5"/><path d="M797.5 415.2 L819.0 418.7" stroke="#666" stroke-width="0.5"/><circle cx="806.7" cy="391.2" r="0.9" fill="#8aa83a"/><circle cx="795.9" cy="413.3" r="0.9" fill="#8aa83a"/><circle cx="813.2" cy="358.0" r="0.9" fill="#8aa83a"/></svg>
<svg class="x" width="1" height="1"><text x="787.8" y="377" font-size="5.6" fill="#3c5a8b" font-weight="bold">Beijing</text></svg>
<svg class="x" width="1" height="1"><text x="842" y="357" font-size="4.7" fill="#323232" font-weight="bold">供应商A</text></svg>
<svg class="x" width="1" height="1"><text x="827.6" y="397" font-size="4.7" fill="#323232" font-weight="bold">供应商B</text></svg>
<svg class="x" width="1" height="1"><text x="824.8" y="421" font-size="4.7" fill="#323232" font-weight="bold">供应商C</text></svg>
<svg class="x" width="1" height="1"><text x="771.8" y="396" font-size="2.6" fill="#e3eaf2" text-anchor="middle">四川</text></svg>
<svg class="x" width="1" height="1"><text x="814.6" y="360" font-size="2.6" fill="#e3eaf2" text-anchor="middle">辽宁</text></svg>
<svg class="x" width="1" height="1"><rect x="123.1" y="436.9" width="175.8" height="130.3" fill="#fff" stroke="#e2e2e2" stroke-width="1"/><rect x="122.6" y="451.6" width="176.8" height="1" fill="#e6e6e6"/></svg><svg class="x" width="1" height="1"><text x="123" y="448" font-size="7.7" fill="#565656"><tspan font-size="6.5">供应商A</tspan><tspan dx="1.2">绩效雷达图</tspan></text></svg>
<svg class="x" width="1" height="1"><rect x="306.9" y="436.9" width="175.4" height="130.3" fill="#fff" stroke="#e2e2e2" stroke-width="1"/><rect x="306.4" y="451.6" width="176.4" height="1" fill="#e6e6e6"/></svg><svg class="x" width="1" height="1"><text x="309.4" y="448" font-size="7.7" fill="#565656"><tspan font-size="6.5">供应商B</tspan><tspan dx="1.2">绩效雷达图</tspan></text></svg>
<svg class="x" width="1" height="1"><rect x="489.5" y="436.9" width="176" height="130.3" fill="#fff" stroke="#e2e2e2" stroke-width="1"/><rect x="489" y="451.6" width="177" height="1" fill="#e6e6e6"/></svg><svg class="x" width="1" height="1"><text x="491.2" y="448" font-size="7.7" fill="#565656"><tspan font-size="6.5">供应商C</tspan><tspan dx="1.2">绩效雷达图</tspan></text></svg>
<svg class="x" width="1" height="1"><rect x="671.7" y="437.9" width="185.4" height="129.3" fill="#fff" stroke="#e2e2e2" stroke-width="1"/><rect x="671.2" y="455.4" width="186.4" height="1" fill="#e6e6e6"/></svg><svg class="x" width="1" height="1"><text x="676.2" y="450" font-size="7.3" fill="#6d6d6d">供应商关系监控</text></svg>
<svg class="a" style="left:0px;top:0px;" width="865" height="573" viewBox="0 0 865 573"><polygon points="211.0,471.4 254.7,498.0 238.0,541.0 184.0,541.0 167.3,498.0" fill="#fff" stroke="#c8c8c8" stroke-width="0.8"/><polygon points="211.0,479.1 245.9,500.4 232.6,534.8 189.4,534.8 176.1,500.4" fill="#ececec" stroke="#d6d6d6" stroke-width="0.6"/><polygon points="211.0,486.8 237.2,502.8 227.2,528.6 194.8,528.6 184.8,502.8" fill="#fff" stroke="#d6d6d6" stroke-width="0.6"/><polygon points="211.0,494.5 228.5,505.1 221.8,522.4 200.2,522.4 193.5,505.1" fill="#ececec" stroke="#d6d6d6" stroke-width="0.6"/><polygon points="211.0,502.2 219.7,507.5 216.4,516.1 205.6,516.1 202.3,507.5" fill="#fff" stroke="#d6d6d6" stroke-width="0.6"/><path d="M211 509.9 L211.0 471.4" stroke="#d0d0d0" stroke-width="0.6"/><path d="M211 509.9 L254.7 498.0" stroke="#d0d0d0" stroke-width="0.6"/><path d="M211 509.9 L238.0 541.0" stroke="#d0d0d0" stroke-width="0.6"/><path d="M211 509.9 L184.0 541.0" stroke="#d0d0d0" stroke-width="0.6"/><path d="M211 509.9 L167.3 498.0" stroke="#d0d0d0" stroke-width="0.6"/><polygon points="211.0,474.3 251.4,498.9 236.4,539.2 185.6,539.2 171.5,499.1" fill="rgba(124,188,88,0.67)" stroke="#8cc46c" stroke-width="0.6"/><polygon points="211.0,479.1 245.9,500.4 232.6,534.8 189.4,534.8 176.1,500.4" fill="none" stroke="rgba(110,170,80,0.55)" stroke-width="0.5"/><polygon points="211.0,486.8 237.2,502.8 227.2,528.6 194.8,528.6 184.8,502.8" fill="none" stroke="rgba(110,170,80,0.55)" stroke-width="0.5"/><polygon points="211.0,494.5 228.5,505.1 221.8,522.4 200.2,522.4 193.5,505.1" fill="none" stroke="rgba(110,170,80,0.55)" stroke-width="0.5"/><polygon points="211.0,502.2 219.7,507.5 216.4,516.1 205.6,516.1 202.3,507.5" fill="none" stroke="rgba(110,170,80,0.55)" stroke-width="0.5"/><path d="M211 509.9 L211.0 471.4" stroke="rgba(110,170,80,0.5)" stroke-width="0.5"/><path d="M211 509.9 L254.7 498.0" stroke="rgba(110,170,80,0.5)" stroke-width="0.5"/><path d="M211 509.9 L238.0 541.0" stroke="rgba(110,170,80,0.5)" stroke-width="0.5"/><path d="M211 509.9 L184.0 541.0" stroke="rgba(110,170,80,0.5)" stroke-width="0.5"/><path d="M211 509.9 L167.3 498.0" stroke="rgba(110,170,80,0.5)" stroke-width="0.5"/></svg><svg class="x" width="1" height="1"><text x="211" y="464" font-size="5.1" fill="#bebebe" text-anchor="middle">采购绩效</text></svg><svg class="x" width="1" height="1"><text x="261.1" y="498" font-size="5.1" fill="#bebebe">质量绩效</text></svg><svg class="x" width="1" height="1"><text x="242.389" y="548" font-size="5.1" fill="#bebebe">物流绩效</text></svg><svg class="x" width="1" height="1"><text x="180.011" y="548" font-size="5.1" fill="#bebebe" text-anchor="end">服务绩效</text></svg><svg class="x" width="1" height="1"><text x="160.9" y="498" font-size="5.1" fill="#bebebe" text-anchor="end">技术绩效</text></svg>
<svg class="x" width="1" height="1"><text x="211.3" y="470" font-size="4.6" fill="#97c976" text-anchor="middle" font-weight="bold">90.4</text></svg>
<svg class="x" width="1" height="1"><text x="252.3" y="495" font-size="4.6" fill="#97c976" text-anchor="middle" font-weight="bold">92.8</text></svg>
<svg class="x" width="1" height="1"><text x="170.5" y="495" font-size="4.6" fill="#97c976" text-anchor="middle" font-weight="bold">91.6</text></svg>
<svg class="a" style="left:0px;top:0px;" width="865" height="573" viewBox="0 0 865 573"><polygon points="395.2,471.4 438.9,498.0 422.2,541.0 368.2,541.0 351.5,498.0" fill="#fff" stroke="#c8c8c8" stroke-width="0.8"/><polygon points="395.2,479.1 430.1,500.4 416.8,534.8 373.6,534.8 360.3,500.4" fill="#ececec" stroke="#d6d6d6" stroke-width="0.6"/><polygon points="395.2,486.8 421.4,502.8 411.4,528.6 379.0,528.6 369.0,502.8" fill="#fff" stroke="#d6d6d6" stroke-width="0.6"/><polygon points="395.2,494.5 412.7,505.1 406.0,522.4 384.4,522.4 377.7,505.1" fill="#ececec" stroke="#d6d6d6" stroke-width="0.6"/><polygon points="395.2,502.2 403.9,507.5 400.6,516.1 389.8,516.1 386.5,507.5" fill="#fff" stroke="#d6d6d6" stroke-width="0.6"/><path d="M395.2 509.9 L395.2 471.4" stroke="#d0d0d0" stroke-width="0.6"/><path d="M395.2 509.9 L438.9 498.0" stroke="#d0d0d0" stroke-width="0.6"/><path d="M395.2 509.9 L422.2 541.0" stroke="#d0d0d0" stroke-width="0.6"/><path d="M395.2 509.9 L368.2 541.0" stroke="#d0d0d0" stroke-width="0.6"/><path d="M395.2 509.9 L351.5 498.0" stroke="#d0d0d0" stroke-width="0.6"/><polygon points="395.2,473.7 435.4,499.0 420.3,538.9 373.3,535.1 355.6,499.1" fill="rgba(124,188,88,0.67)" stroke="#8cc46c" stroke-width="0.6"/><polygon points="395.2,479.1 430.1,500.4 416.8,534.8 373.6,534.8 360.3,500.4" fill="none" stroke="rgba(110,170,80,0.55)" stroke-width="0.5"/><polygon points="395.2,486.8 421.4,502.8 411.4,528.6 379.0,528.6 369.0,502.8" fill="none" stroke="rgba(110,170,80,0.55)" stroke-width="0.5"/><polygon points="395.2,494.5 412.7,505.1 406.0,522.4 384.4,522.4 377.7,505.1" fill="none" stroke="rgba(110,170,80,0.55)" stroke-width="0.5"/><polygon points="395.2,502.2 403.9,507.5 400.6,516.1 389.8,516.1 386.5,507.5" fill="none" stroke="rgba(110,170,80,0.55)" stroke-width="0.5"/><path d="M395.2 509.9 L395.2 471.4" stroke="rgba(110,170,80,0.5)" stroke-width="0.5"/><path d="M395.2 509.9 L438.9 498.0" stroke="rgba(110,170,80,0.5)" stroke-width="0.5"/><path d="M395.2 509.9 L422.2 541.0" stroke="rgba(110,170,80,0.5)" stroke-width="0.5"/><path d="M395.2 509.9 L368.2 541.0" stroke="rgba(110,170,80,0.5)" stroke-width="0.5"/><path d="M395.2 509.9 L351.5 498.0" stroke="rgba(110,170,80,0.5)" stroke-width="0.5"/></svg><svg class="x" width="1" height="1"><text x="395.2" y="464" font-size="5.1" fill="#bebebe" text-anchor="middle">采购绩效</text></svg><svg class="x" width="1" height="1"><text x="445.3" y="498" font-size="5.1" fill="#bebebe">质量绩效</text></svg><svg class="x" width="1" height="1"><text x="426.589" y="548" font-size="5.1" fill="#bebebe">物流绩效</text></svg><svg class="x" width="1" height="1"><text x="364.211" y="548" font-size="5.1" fill="#bebebe" text-anchor="end">服务绩效</text></svg><svg class="x" width="1" height="1"><text x="345.1" y="498" font-size="5.1" fill="#bebebe" text-anchor="end">技术绩效</text></svg>
<svg class="x" width="1" height="1"><text x="395.2" y="469" font-size="4.6" fill="#97c976" text-anchor="middle" font-weight="bold">93.4</text></svg>
<svg class="x" width="1" height="1"><text x="436" y="495" font-size="4.6" fill="#97c976" text-anchor="middle" font-weight="bold">92.8</text></svg>
<svg class="x" width="1" height="1"><text x="354.8" y="495" font-size="4.6" fill="#97c976" text-anchor="middle" font-weight="bold">93.6</text></svg>
<svg class="a" style="left:0px;top:0px;" width="865" height="573" viewBox="0 0 865 573"><polygon points="578.2,471.4 621.9,498.0 605.2,541.0 551.2,541.0 534.5,498.0" fill="#fff" stroke="#c8c8c8" stroke-width="0.8"/><polygon points="578.2,479.1 613.1,500.4 599.8,534.8 556.6,534.8 543.3,500.4" fill="#ececec" stroke="#d6d6d6" stroke-width="0.6"/><polygon points="578.2,486.8 604.4,502.8 594.4,528.6 562.0,528.6 552.0,502.8" fill="#fff" stroke="#d6d6d6" stroke-width="0.6"/><polygon points="578.2,494.5 595.7,505.1 589.0,522.4 567.4,522.4 560.7,505.1" fill="#ececec" stroke="#d6d6d6" stroke-width="0.6"/><polygon points="578.2,502.2 586.9,507.5 583.6,516.1 572.8,516.1 569.5,507.5" fill="#fff" stroke="#d6d6d6" stroke-width="0.6"/><path d="M578.2 509.9 L578.2 471.4" stroke="#d0d0d0" stroke-width="0.6"/><path d="M578.2 509.9 L621.9 498.0" stroke="#d0d0d0" stroke-width="0.6"/><path d="M578.2 509.9 L605.2 541.0" stroke="#d0d0d0" stroke-width="0.6"/><path d="M578.2 509.9 L551.2 541.0" stroke="#d0d0d0" stroke-width="0.6"/><path d="M578.2 509.9 L534.5 498.0" stroke="#d0d0d0" stroke-width="0.6"/><polygon points="578.2,473.7 616.8,499.4 602.0,537.4 558.4,532.8 538.6,499.1" fill="rgba(124,188,88,0.67)" stroke="#8cc46c" stroke-width="0.6"/><polygon points="578.2,479.1 613.1,500.4 599.8,534.8 556.6,534.8 543.3,500.4" fill="none" stroke="rgba(110,170,80,0.55)" stroke-width="0.5"/><polygon points="578.2,486.8 604.4,502.8 594.4,528.6 562.0,528.6 552.0,502.8" fill="none" stroke="rgba(110,170,80,0.55)" stroke-width="0.5"/><polygon points="578.2,494.5 595.7,505.1 589.0,522.4 567.4,522.4 560.7,505.1" fill="none" stroke="rgba(110,170,80,0.55)" stroke-width="0.5"/><polygon points="578.2,502.2 586.9,507.5 583.6,516.1 572.8,516.1 569.5,507.5" fill="none" stroke="rgba(110,170,80,0.55)" stroke-width="0.5"/><path d="M578.2 509.9 L578.2 471.4" stroke="rgba(110,170,80,0.5)" stroke-width="0.5"/><path d="M578.2 509.9 L621.9 498.0" stroke="rgba(110,170,80,0.5)" stroke-width="0.5"/><path d="M578.2 509.9 L605.2 541.0" stroke="rgba(110,170,80,0.5)" stroke-width="0.5"/><path d="M578.2 509.9 L551.2 541.0" stroke="rgba(110,170,80,0.5)" stroke-width="0.5"/><path d="M578.2 509.9 L534.5 498.0" stroke="rgba(110,170,80,0.5)" stroke-width="0.5"/></svg><svg class="x" width="1" height="1"><text x="578.2" y="464" font-size="5.1" fill="#bebebe" text-anchor="middle">采购绩效</text></svg><svg class="x" width="1" height="1"><text x="628.3" y="498" font-size="5.1" fill="#bebebe">质量绩效</text></svg><svg class="x" width="1" height="1"><text x="609.589" y="548" font-size="5.1" fill="#bebebe">物流绩效</text></svg><svg class="x" width="1" height="1"><text x="547.211" y="548" font-size="5.1" fill="#bebebe" text-anchor="end">服务绩效</text></svg><svg class="x" width="1" height="1"><text x="528.1" y="498" font-size="5.1" fill="#bebebe" text-anchor="end">技术绩效</text></svg>
<svg class="x" width="1" height="1"><text x="578.2" y="470" font-size="4.6" fill="#97c976" text-anchor="middle" font-weight="bold">91.4</text></svg>
<svg class="x" width="1" height="1"><text x="617.2" y="495" font-size="4.6" fill="#97c976" text-anchor="middle" font-weight="bold">87.6</text></svg>
<svg class="x" width="1" height="1"><text x="538.2" y="495" font-size="4.6" fill="#97c976" text-anchor="middle" font-weight="bold">89.6</text></svg>
<svg class="x" width="1" height="1"><rect x="676" y="460.4" width="176.6" height="24.2" fill="#f4f4f4"/></svg>
<svg class="x" width="1" height="1"><rect x="678.6" y="468.6" width="19.6" height="9.4" fill="#fff"/></svg>
<svg class="x" width="1" height="1"><rect x="705.6" y="468.4" width="64.6" height="9.6" fill="#fff"/></svg>
<svg class="x" width="1" height="1"><rect x="791.6" y="468.4" width="50.6" height="9.6" fill="#fff"/></svg>
<svg class="x" width="1" height="1"><text x="685.6" y="476" font-size="6.3" fill="#6d6d6d" text-anchor="middle">代码</text></svg>
<svg class="x" width="1" height="1"><text x="739.6" y="476" font-size="6.3" fill="#6d6d6d" text-anchor="middle">供应商名称</text></svg>
<svg class="x" width="1" height="1"><text x="814" y="476" font-size="6.3" fill="#6d6d6d" text-anchor="middle">供应商关系</text></svg>
<svg class="x" width="1" height="1"><rect x="676" y="484.4" width="176.6" height="0.7" fill="#e4e4e4"/></svg>
<svg class="x" width="1" height="1"><rect x="676" y="504.7" width="176.6" height="20.8" fill="#fafafa"/></svg>
<svg class="x" width="1" height="1"><rect x="676" y="545.2" width="176.6" height="22.4" fill="#fafafa"/></svg>
<svg class="x" width="1" height="1"><rect x="676" y="504.3" width="176.6" height="0.7" fill="#e4e4e4"/></svg>
<svg class="x" width="1" height="1"><rect x="676" y="525.1" width="176.6" height="0.7" fill="#e4e4e4"/></svg>
<svg class="x" width="1" height="1"><rect x="676" y="544.8" width="176.6" height="0.7" fill="#e4e4e4"/></svg>
<svg class="x" width="1" height="1"><rect x="676" y="567.2" width="176.6" height="0.7" fill="#e4e4e4"/></svg>
<svg class="x" width="1" height="1"><rect x="700.4" y="507.6" width="10" height="14" fill="#fbfbfb"/></svg>
<svg class="x" width="1" height="1"><rect x="816" y="510.8" width="33" height="10" fill="#fbfbfb"/></svg>
<svg class="x" width="1" height="1"><rect x="678" y="553" width="21" height="9.6" fill="#fcfcfc"/></svg>
<svg class="x" width="1" height="1"><rect x="721.6" y="551" width="52" height="16" fill="#fcfcfc"/></svg>
<svg class="x" width="1" height="1"><text x="687.4" y="498" font-size="7.2" fill="#6d6d6d" text-anchor="middle">LM234</text></svg>
<svg class="x" width="1" height="1"><text x="740.2" y="499" font-size="6.7" fill="#5e5e5e" text-anchor="middle">供应商A有限公司</text></svg>
<svg class="x" width="1" height="1"><text x="815.2" y="498" font-size="6.6" fill="#51bb78" text-anchor="middle" font-weight="bold">紧密</text></svg>
<svg class="x" width="1" height="1"><text x="687.4" y="520" font-size="7.2" fill="#6d6d6d" text-anchor="middle">LA127</text></svg>
<svg class="x" width="1" height="1"><text x="740.2" y="520" font-size="6.7" fill="#5e5e5e" text-anchor="middle">供应商C股份公司</text></svg>
<svg class="x" width="1" height="1"><text x="815.2" y="518" font-size="6.6" fill="#4a97d0" text-anchor="middle" font-weight="bold">协同</text></svg>
<svg class="x" width="1" height="1"><text x="686.6" y="540" font-size="7.2" fill="#6d6d6d" text-anchor="middle">LX456</text></svg>
<svg class="x" width="1" height="1"><text x="740.2" y="540" font-size="6.7" fill="#5e5e5e" text-anchor="middle">供应商B有限公司</text></svg>
<svg class="x" width="1" height="1"><text x="815.2" y="539" font-size="6.6" fill="#4a97d0" text-anchor="middle" font-weight="bold">协同</text></svg>
<svg class="x" width="1" height="1"><text x="740.2" y="561" font-size="6.7" fill="#5e5e5e" text-anchor="middle">供应商D有限公司</text></svg>
<svg class="x" width="1" height="1"><text x="815.2" y="561" font-size="6.6" fill="#9a9a9a" text-anchor="middle" font-weight="bold">协同</text></svg>
<svg class="x" width="1" height="1"><text x="775.6" y="563" font-size="13.1" fill="#b2b2b2" style="stroke:#fff;stroke-width:1px;paint-order:stroke;stroke-opacity:.8;letter-spacing:0.15px">@ITPUB博客</text></svg>
<svg class="x" width="1" height="1"><rect x="858.6" y="299.4" width="3" height="273" fill="#fff"/></svg>
<svg class="x" width="1" height="1"><rect x="100" y="251" width="0.9" height="340" fill="#3a4c6c"/></svg>
<svg class="x" width="1" height="1"><rect x="860.7" y="269.2" width="2.2" height="320" fill="#a3b5d8"/></svg>
<svg class="x" width="1" height="1"><rect x="100" y="571.7" width="763" height="16" fill="#3c5a96"/></svg>
</div></div>
<svg class="x" width="1" height="1"><rect x="862" y="333.4" width="5" height="1.3" fill="#999"/></svg>
</div></body></html>
